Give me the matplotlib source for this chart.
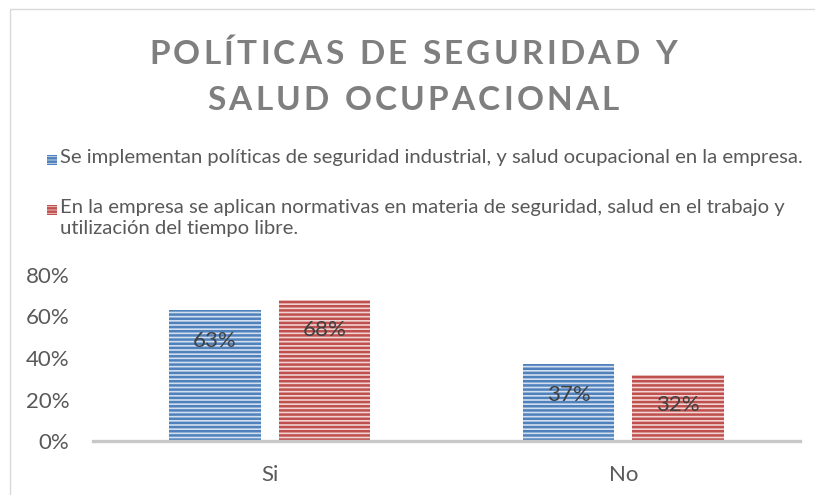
import matplotlib
matplotlib.use("Agg")
import matplotlib.pyplot as plt
from matplotlib.patches import Rectangle

plt.rcParams['font.family'] = ['Lato', 'DejaVu Sans']
plt.rcParams['hatch.linewidth'] = 1.8

# datos
categorias = ['Si', 'No']
serie_1 = [0.63, 0.37]
serie_2 = [0.68, 0.32]
nombres = ['Se implementan políticas de seguridad industrial, y salud ocupacional en la empresa.',
           'En la empresa se aplican normativas en materia de seguridad, salud en el trabajo y\nutilización del tiempo libre.']
titulo = ['POLÍTICAS DE SEGURIDAD Y', 'SALUD OCUPACIONAL']

azul, azul_claro = '#4F81BD', '#D3DFEF'
rojo, rojo_claro = '#C0504D', '#F0D3D2'
gris_txt = '#595959'

W, H = 815, 495
fig = plt.figure(figsize=(W / 100, H / 100), dpi=100)

def fx(px):
    return px / W

def fy(py):
    return 1 - py / H

# borde del grafico
fig.add_artist(Rectangle((fx(10), fy(600)), 1.2, fy(9) - fy(600), transform=fig.transFigure,
                         fill=False, edgecolor='#D9D9D9', lw=1))

ax = fig.add_axes([fx(93), fy(441), fx(800) - fx(93), fy(275) - fy(441)])
x = [0, 1]
ancho = 0.26
off = 0.155
b1 = ax.bar([i - off for i in x], serie_1, ancho, color=azul_claro, edgecolor=azul, lw=0, hatch='----')
b2 = ax.bar([i + off for i in x], serie_2, ancho, color=rojo_claro, edgecolor=rojo, lw=0, hatch='----')

for bars, vals in ((b1, serie_1), (b2, serie_2)):
    for r, v in zip(bars, vals):
        ax.annotate(f'{v:.0%}', (r.get_x() + r.get_width() / 2, v), xytext=(0, -22),
                    textcoords='offset points', ha='center', va='center', fontsize=16, color='#404040')

ax.set_xlim(-0.5, 1.5)
ax.set_ylim(0, 0.8)
ax.set_yticks([0, 0.2, 0.4, 0.6, 0.8])
ax.set_yticklabels(['0%', '20%', '40%', '60%', '80%'])
ax.set_xticks(x)
ax.set_xticklabels(categorias)
ax.tick_params(length=0, labelsize=16, labelcolor=gris_txt)
ax.tick_params(axis='y', pad=17)
ax.tick_params(axis='x', pad=17)
for s in ['left', 'right', 'top']:
    ax.spines[s].set_visible(False)
ax.spines['bottom'].set_color('#C8C8C8')
ax.spines['bottom'].set_linewidth(2.4)
ax.patch.set_visible(False)

# leyenda
for py, col, col_cl, txt in ((160, azul, azul_claro, nombres[0]), (210, rojo, rojo_claro, nombres[1])):
    fig.add_artist(Rectangle((fx(47), fy(py + 5)), fx(10), fy(py - 5) - fy(py + 5), transform=fig.transFigure,
                             facecolor=col_cl, edgecolor=col, lw=0, hatch='-----'))
    fig.text(fx(60), fy(py - 11), txt, ha='left', va='top', fontsize=14.6, color=gris_txt, linespacing=1.3)

# titulo con espaciado entre letras
renderer = fig.canvas.get_renderer()

def texto_espaciado(s, cx, cy, extra, **kw):
    anchos = []
    for ch in s:
        t = fig.text(0, 0, ch if ch != ' ' else 'a', **kw)
        bb = t.get_window_extent(renderer)
        anchos.append(bb.width * (0.55 if ch == ' ' else 1))
        t.remove()
    total = sum(anchos) + extra * (len(s) - 1)
    xpos = cx - total / 2
    for ch, w in zip(s, anchos):
        fig.text(fx(xpos), fy(cy), ch, ha='left', va='center', **kw)
        xpos += w + extra

for i, linea in enumerate(titulo):
    texto_espaciado(linea, 413, 55 + 46 * i, 3.2, fontsize=24, fontweight='bold', color='#7F7F7F')

fig.savefig('out.png', dpi=100)
